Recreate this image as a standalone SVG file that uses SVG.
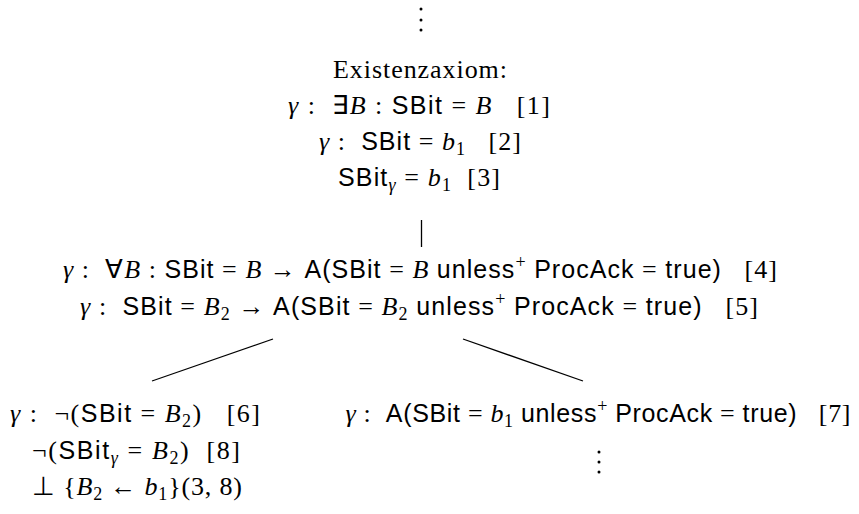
<svg xmlns="http://www.w3.org/2000/svg" width="859" height="514" viewBox="0 0 859 514">
<style>
text { font-family: "Liberation Serif", serif; font-size: 26px; fill: #000; text-anchor: middle; }
.m { font-style: italic; }
.s { font-family: "Liberation Sans", sans-serif; font-size: 25px; }
.sub { font-size: 18px; }
.dot { fill: #000; }
.edge { stroke: #000; stroke-width: 1.3; fill: none; }
</style>
<rect width="859" height="514" fill="#fff"/>
<g id="top-dots">
<circle class="dot" cx="421" cy="9" r="1.5"/><circle class="dot" cx="421" cy="20" r="1.5"/><circle class="dot" cx="421" cy="30" r="1.5"/>
</g>
<g id="node-root">
<text x="420" y="78" textLength="174" lengthAdjust="spacing" xml:space="preserve">Existenzaxiom:</text>
<text x="419" y="114" textLength="262" lengthAdjust="spacing" xml:space="preserve"><tspan class="m">γ</tspan> :  ∃<tspan class="m">B</tspan> : <tspan class="s">SBit</tspan> = <tspan class="m">B</tspan>   [1]</text>
<text x="420" y="150" textLength="202" lengthAdjust="spacing" xml:space="preserve"><tspan class="m">γ</tspan> :  <tspan class="s">SBit</tspan> = <tspan class="m">b</tspan><tspan class="sub" dy="5">1</tspan><tspan dy="-5">   [2]</tspan></text>
<text x="419" y="186" textLength="162" lengthAdjust="spacing" xml:space="preserve"><tspan class="s">SBit</tspan><tspan class="sub m" dy="5">γ</tspan><tspan dy="-5"> = </tspan><tspan class="m">b</tspan><tspan class="sub" dy="5">1</tspan><tspan dy="-5">  [3]</tspan></text>
</g>
<g id="node-mid">
<text x="420" y="278" textLength="714" lengthAdjust="spacing" xml:space="preserve"><tspan class="m">γ</tspan> :  ∀<tspan class="m">B</tspan> : <tspan class="s">SBit</tspan> = <tspan class="m">B</tspan> → <tspan class="s">A(SBit</tspan> = <tspan class="m">B</tspan> <tspan class="s">unless</tspan><tspan class="sub" dy="-10">+</tspan><tspan dy="10"> </tspan><tspan class="s">ProcAck</tspan> = <tspan class="s">true)</tspan>   [4]</text>
<text x="419" y="315" textLength="678" lengthAdjust="spacing" xml:space="preserve"><tspan class="m">γ</tspan> :  <tspan class="s">SBit</tspan> = <tspan class="m">B</tspan><tspan class="sub" dy="5">2</tspan><tspan dy="-5"> → </tspan><tspan class="s">A(SBit</tspan> = <tspan class="m">B</tspan><tspan class="sub" dy="5">2</tspan><tspan dy="-5"> </tspan><tspan class="s">unless</tspan><tspan class="sub" dy="-10">+</tspan><tspan dy="10"> </tspan><tspan class="s">ProcAck</tspan> = <tspan class="s">true)</tspan>   [5]</text>
</g>
<g id="connectors">
<line class="edge" x1="421.5" y1="220" x2="421.5" y2="247"/>
<line class="edge" x1="273" y1="339" x2="152" y2="381"/>
<line class="edge" x1="463" y1="339" x2="583" y2="381"/>
</g>
<g id="node-left">
<text x="135" y="422" textLength="250" lengthAdjust="spacing" xml:space="preserve"><tspan class="m">γ</tspan> :  ¬(<tspan class="s">SBit</tspan> = <tspan class="m">B</tspan><tspan class="sub" dy="5">2</tspan><tspan dy="-5">)   [6]</tspan></text>
<text x="136" y="459" textLength="208" lengthAdjust="spacing" xml:space="preserve">¬(<tspan class="s">SBit</tspan><tspan class="sub m" dy="5">γ</tspan><tspan dy="-5"> = </tspan><tspan class="m">B</tspan><tspan class="sub" dy="5">2</tspan><tspan dy="-5">)  [8]</tspan></text>
<text x="137" y="495" textLength="210" lengthAdjust="spacing" xml:space="preserve">⊥ {<tspan class="m">B</tspan><tspan class="sub" dy="5">2</tspan><tspan dy="-5"> ← </tspan><tspan class="m">b</tspan><tspan class="sub" dy="5">1</tspan><tspan dy="-5">}(3, 8)</tspan></text>
</g>
<g id="node-right">
<text x="598" y="422" textLength="505" lengthAdjust="spacing" xml:space="preserve"><tspan class="m">γ</tspan> :  <tspan class="s">A(SBit</tspan> = <tspan class="m">b</tspan><tspan class="sub" dy="5">1</tspan><tspan dy="-5"> </tspan><tspan class="s">unless</tspan><tspan class="sub" dy="-10">+</tspan><tspan dy="10"> </tspan><tspan class="s">ProcAck</tspan> = <tspan class="s">true)</tspan>   [7]</text>
<circle class="dot" cx="599" cy="452" r="1.5"/><circle class="dot" cx="599" cy="462" r="1.5"/><circle class="dot" cx="599" cy="472" r="1.5"/>
</g>
</svg>
